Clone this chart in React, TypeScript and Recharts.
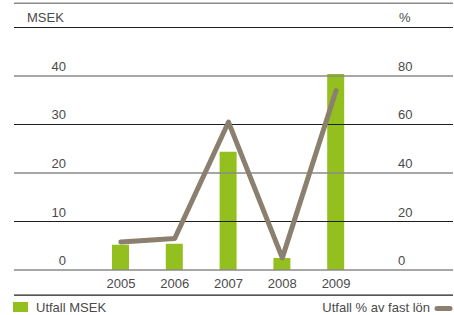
import {
  Bar,
  ComposedChart,
  Line,
  ReferenceLine,
  XAxis,
  YAxis,
} from "recharts";

const years = ["2005", "2006", "2007", "2008", "2009"];
const utfallMsek = [5.2, 5.4, 24.4, 2.5, 40.4];
const utfallPct = [11.5, 13, 61, 5, 74];
const leftTicks = [0, 10, 20, 30, 40];
const rightTicks = [0, 20, 40, 60, 80];
// rule lines on the MSEK scale, alternating grey / black
const ruleValues = [55, 50, 40, 30, 20, 10, 0, -5.2];
const ruleDark = [false, true, false, true, false, true, false, true];

const data = years.map((y, i) => ({
  year: y,
  msek: utfallMsek[i],
  pct: utfallPct[i],
}));

const FONT = "'Liberation Sans', Arial, sans-serif";
const TEXT = "#4a4a4a";
const GREEN = "#93c01f";
const TAUPE = "#8b806f";

const LeftTick = (props: any) => (
  <text x={66} y={props.y - 5} textAnchor="end" fontSize={13} fill={TEXT} fontFamily={FONT}>
    {props.payload.value}
  </text>
);

const RightTick = (props: any) => (
  <text x={398} y={props.y - 5} textAnchor="start" fontSize={13} fill={TEXT} fontFamily={FONT}>
    {props.payload.value}
  </text>
);

const YearTick = (props: any) => (
  <text x={props.x} y={288} textAnchor="middle" fontSize={13} fill={TEXT} fontFamily={FONT}>
    {props.payload.value}
  </text>
);

export default function App() {
  return (
    <div style={{ width: 454, height: 315, background: "#fff" }}>
      <style>{"html, body { margin: 0; padding: 0; overflow: hidden; }"}</style>
      <ComposedChart
        width={454}
        height={315}
        data={data}
        margin={{ top: 3, right: 0, left: 13, bottom: 18 }}
      >
        <XAxis
          dataKey="year"
          height={1}
          axisLine={false}
          tickLine={false}
          tick={<YearTick />}
          interval={0}
          padding={{ left: 80, right: 90 }}
        />
        <YAxis
          yAxisId="left"
          width={1}
          domain={[-5.36, 55.05]}
          ticks={leftTicks}
          axisLine={false}
          tickLine={false}
          tick={<LeftTick />}
          allowDataOverflow
        />
        <YAxis
          yAxisId="right"
          orientation="right"
          width={1}
          domain={[-10.72, 110.1]}
          ticks={rightTicks}
          axisLine={false}
          tickLine={false}
          tick={<RightTick />}
          allowDataOverflow
        />
        {ruleValues.map((v, i) => (
          <ReferenceLine
            key={v}
            yAxisId="left"
            y={v}
            stroke={ruleDark[i] ? "#1e1e1e" : "#8a8a8a"}
            strokeWidth={ruleDark[i] ? 1.2 : 1.6}
            ifOverflow="visible"
          />
        ))}
        <text x={27} y={22} fontSize={13} fill={TEXT} fontFamily={FONT}>
          MSEK
        </text>
        <text x={399} y={22} fontSize={13} fill={TEXT} fontFamily={FONT}>
          %
        </text>
        <Bar
          yAxisId="left"
          dataKey="msek"
          fill={GREEN}
          barSize={17}
          isAnimationActive={false}
        />
        <Line
          yAxisId="right"
          dataKey="pct"
          type="linear"
          stroke={TAUPE}
          strokeWidth={5}
          strokeLinecap="round"
          strokeLinejoin="round"
          dot={false}
          activeDot={false}
          isAnimationActive={false}
        />
        <g>
          <rect x={13} y={302} width={15} height={10} fill={GREEN} />
          <text x={36} y={312} fontSize={13} fill={TEXT} fontFamily={FONT}>
            Utfall MSEK
          </text>
          <text x={430} y={312} textAnchor="end" fontSize={13} fill={TEXT} fontFamily={FONT}>
            Utfall % av fast lön
          </text>
          <line
            x1={437}
            y1={308.5}
            x2={450}
            y2={308.5}
            stroke={TAUPE}
            strokeWidth={5}
            strokeLinecap="round"
          />
        </g>
      </ComposedChart>
    </div>
  );
}
